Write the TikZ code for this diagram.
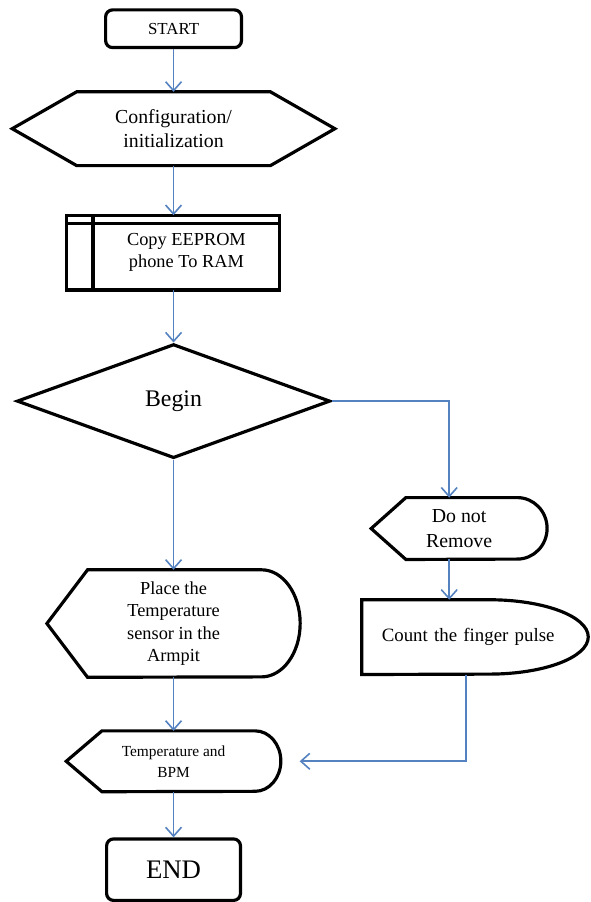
\documentclass[tikz,border=0pt]{standalone}
\usepackage{fontspec}
\setmainfont{Liberation Serif}
\usetikzlibrary{positioning, shapes.geometric, arrows.meta}
\definecolor{flowblue}{RGB}{84,130,192}
\tikzset{
    flow-line/.style = {draw=flowblue, line width=1.6pt, -{Straight Barb[length=9pt, width=16pt]}},
    shape-line/.style = {draw=black, line width=3.2pt},
    plain-box/.style = {rectangle, inner sep=0pt, align=center},
    terminal-box/.style = {shape-line, rectangle, rounded corners=7pt, inner sep=0pt, align=center},
    decision-box/.style = {shape-line, diamond, inner sep=0pt},
}
\newcommand{\hexoutline}[2]{%
    \draw[shape-line] (#1.west) -- ([xshift=#2]#1.north west) -- ([xshift=-#2]#1.north east)
        -- (#1.east) -- ([xshift=-#2]#1.south east) -- ([xshift=#2]#1.south west) -- cycle;}
\newcommand{\displayoutline}[4]{%
    \draw[shape-line] (#1.west) -- ([xshift=#2]#1.north west) -- ([xshift=-#3]#1.north east)
        arc[start angle=90, end angle=-90, x radius=#3, y radius=#4]
        -- ([xshift=#2]#1.south west) -- cycle;}
\newcommand{\delayoutline}[3]{%
    \draw[shape-line] (#1.north west) -- ([xshift=-#2]#1.north east)
        arc[start angle=90, end angle=-90, x radius=#2, y radius=#3]
        -- (#1.south west) -- cycle;}
\newcommand{\storageoutline}[3]{%
    \draw[shape-line] ([xshift=-#2]#1.north west) rectangle (#1.south east);
    \draw[shape-line] (#1.north west) -- (#1.south west);
    \draw[shape-line] ([xshift=-#2, yshift=-#3]#1.north west) -- ([yshift=-#3]#1.north east);}

\begin{document}
\begin{tikzpicture}[x=1pt, y=1pt]
\fill[white] (0,0) rectangle (595,902);

\node[terminal-box, minimum width=137pt, minimum height=38pt, font={\fontsize{17}{20}\selectfont}] (start) at (175,873) {START};
\node[plain-box, below=43pt of start, minimum width=325pt, minimum height=74pt, font={\fontsize{20}{25}\selectfont}] (config) {Configuration/\\initialization};
\node[plain-box, below=50pt of config, xshift=13pt, minimum width=188pt, minimum height=75pt, font={\fontsize{18.5}{22}\selectfont}] (copy) {Copy EEPROM\\phone To RAM};
\node[decision-box, below=53pt of copy, xshift=-13pt, minimum width=316pt, minimum height=115pt, font={\fontsize{24}{28}\selectfont}] (begin) {Begin};
\node[plain-box, below=111pt of begin, minimum width=255pt, minimum height=108pt, font={\fontsize{18.5}{22.5}\selectfont}] (place) {Place the\\Temperature\\sensor in the\\Armpit};
\node[plain-box, below=54pt of place, minimum width=216pt, minimum height=61pt, font={\fontsize{15.5}{21}\selectfont}] (tempbpm) {Temperature and\\BPM};
\node[terminal-box, below=46pt of tempbpm, minimum width=135pt, minimum height=62pt, font={\fontsize{27}{30}\selectfont}] (end) {END};

\node[plain-box, minimum width=177pt, minimum height=62pt, font={\fontsize{20}{25}\selectfont}] (donot) at (463,369) {Do not\\Remove};
\node[plain-box, align=left, text width=188pt, inner xsep=20pt, minimum height=75pt, font={\fontsize{19}{22}\selectfont}] (count) at (479,259.5) {Count the finger pulse};

\hexoutline{config}{65pt}
\storageoutline{copy}{27pt}{8pt}
\displayoutline{place}{41pt}{39pt}{54pt}
\displayoutline{tempbpm}{36pt}{26pt}{30.5pt}
\displayoutline{donot}{35pt}{30pt}{31pt}
\delayoutline{count}{100pt}{37.5pt}

\coordinate (bpm-in) at ([xshift=19pt]tempbpm.east);

\draw[flow-line] (start) -- (config);
\draw[flow-line] (config.south) -- (config.south |- copy.north);
\draw[flow-line] (begin.north |- copy.south) -- (begin.north);
\draw[flow-line] (begin) -- (place);
\draw[flow-line] (place) -- (tempbpm);
\draw[flow-line] (tempbpm) -- (end);
\draw[flow-line] (begin.east) -| ([xshift=-10pt]donot.north);
\draw[flow-line] ([xshift=-10pt]donot.south) -- ([xshift=-10pt]donot.south |- count.north);
\draw[flow-line] ([xshift=-9pt]count.south) |- (bpm-in);
\end{tikzpicture}
\end{document}
